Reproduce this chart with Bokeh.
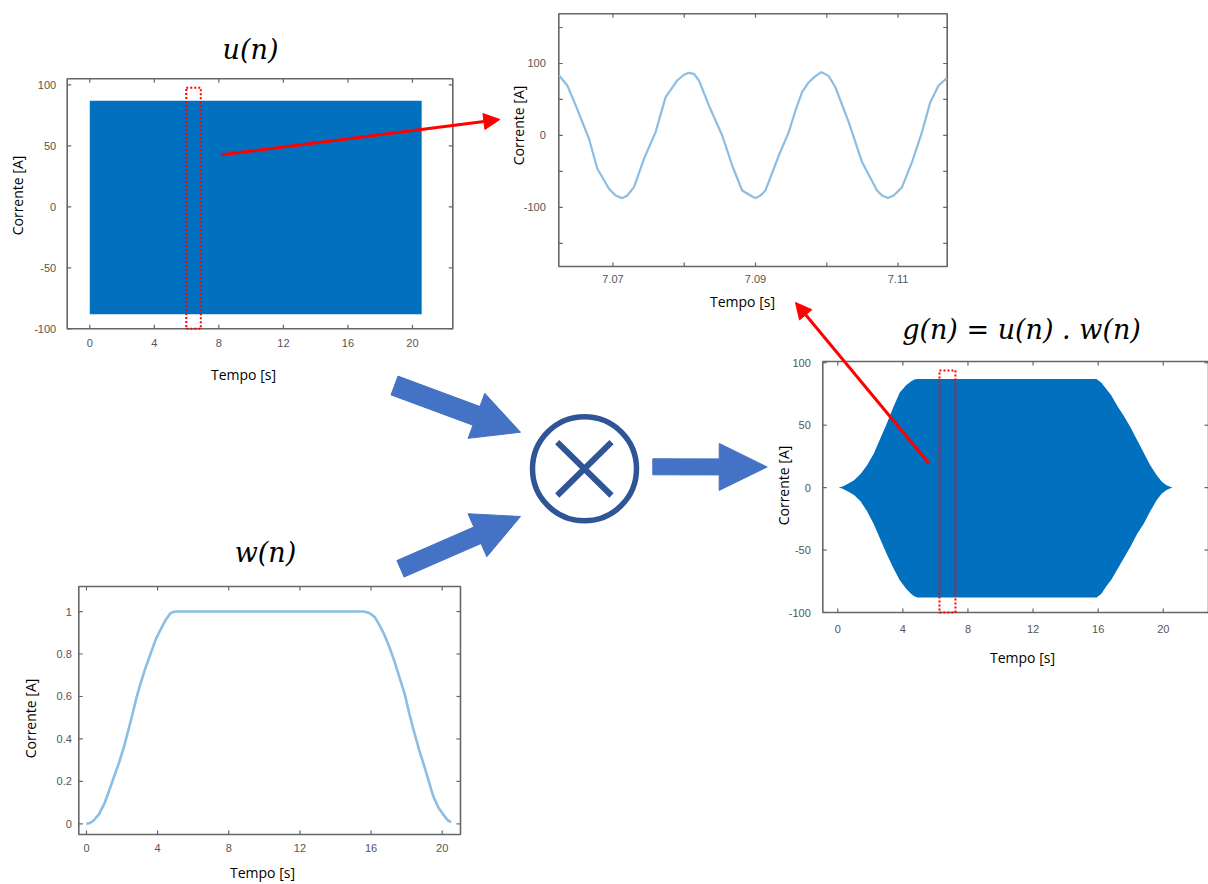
import math
from bokeh.plotting import figure
from bokeh.models import Range1d, Arrow, NormalHead
from bokeh.core.properties import value
from bokeh.embed import file_html
from bokeh.resources import INLINE

# ---------------- data ----------------
# u(n): 50 Hz current from 0 to 20.57 s -> drawn as its envelope band
u_time = [0.0, 20.57]
u_upper = [87.0, 87.0]
u_lower = [-88.0, -88.0]

# zoom of u(n) (7.062 s .. 7.117 s)
zoom_time = [7.06244, 7.06360, 7.06477, 7.06664, 7.06781, 7.06944, 7.07038, 7.07131, 7.07201,
             7.07295, 7.07435, 7.07598, 7.07739, 7.07902, 7.07996, 7.08066, 7.08136, 7.08206,
             7.08346, 7.08533, 7.08673, 7.08813, 7.08930, 7.09000, 7.09070, 7.09140, 7.09327,
             7.09467, 7.09561, 7.09654, 7.09748, 7.09841, 7.09925, 7.10028, 7.10121, 7.10308,
             7.10495, 7.10705, 7.10775, 7.10859, 7.10939, 7.11056, 7.11196, 7.11336, 7.11453,
             7.11569, 7.11686]
zoom_current = [83.3, 69.4, 41.7, -4.6, -46.3, -74.0, -83.3, -87.0, -83.3,
                -71.8, -32.4, 4.6, 53.2, 76.4, 84.3, 87.0, 85.6, 76.4,
                41.7, 0.0, -41.7, -76.4, -83.3, -87.0, -83.3, -76.4, -27.8,
                4.6, 34.7, 60.2, 74.0, 82.4, 88.0, 82.4, 67.0, 18.5,
                -37.0, -76.4, -83.3, -87.0, -83.3, -71.8, -37.0, 4.6, 46.3,
                69.4, 79.6]

# w(n): window
w_time = [0.0, 0.2, 0.4, 0.7, 1.0, 1.25, 1.5, 1.8, 2.1, 2.35, 2.6, 2.8, 3.0, 3.3, 3.6,
          3.9, 4.2, 4.45, 4.7, 4.85, 5.0,
          15.6, 15.9, 16.2, 16.45, 16.7, 17.0, 17.3, 17.6, 17.9, 18.15, 18.4, 18.7,
          19.0, 19.25, 19.5, 19.8, 20.1, 20.3, 20.5]
w_value = [0.0, 0.004, 0.016, 0.045, 0.094, 0.15, 0.21, 0.28, 0.36, 0.44, 0.52, 0.59,
           0.65, 0.73, 0.80, 0.87, 0.92, 0.96, 0.99, 0.997, 1.0,
           1.0, 0.993, 0.975, 0.94, 0.90, 0.84, 0.77, 0.69, 0.61, 0.52, 0.44, 0.35,
           0.27, 0.20, 0.13, 0.075, 0.04, 0.018, 0.008]

# g(n) = u(n).w(n): envelope band
g_time = [0.06, 0.3, 0.6, 1.0, 1.4, 1.8, 2.2, 2.6, 3.0, 3.4, 3.8, 4.2, 4.5, 4.7, 4.9,
          15.9, 16.2, 16.5, 16.8, 17.2, 17.6, 18.0, 18.4, 18.8, 19.2, 19.6, 19.9, 20.2, 20.55]
g_upper = [0, 1, 3, 6, 11, 18, 27, 39, 51, 64, 76, 82, 85, 86.5, 87,
           87, 84, 79, 74, 65, 57, 48, 38, 28, 18, 10, 5, 2, 0]
g_lower = [0, -1, -3, -6, -11, -19, -29, -41, -53, -64, -74, -81, -85, -87, -88,
           -88, -85, -79, -74, -65, -56, -47, -37, -29, -19, -10, -5, -2, 0]

# ticks
time_ticks = [0, 4, 8, 12, 16, 20]
time_labels = ["0", "4", "8", "12", "16", "20"]
current_ticks = [-100, -50, 0, 50, 100]
current_labels = ["-100", "-50", "0", "50", "100"]
zoom_time_ticks = [7.07, 7.08, 7.09, 7.10, 7.11]
zoom_time_labels = ["7.07", "", "7.09", "", "7.11"]
zoom_current_ticks = [-150, -100, -50, 0, 50, 100, 150]
zoom_current_labels = ["", "-100", "", "0", "", "100", ""]
w_ticks = [0, 0.2, 0.4, 0.6, 0.8, 1.0]
w_labels = ["0", "0.2", "0.4", "0.6", "0.8", "1"]

# highlighted windows (left, right, bottom, top)
u_window = (5.98, 6.88, -100, 97.7)
g_window = (6.25, 7.23, -100, 93.8)

# ---------------- styles ----------------
BAND = "#0070bf"
LIGHT = "#8cbde2"
FRAME = "#666666"
TICKC = "#555555"
BLUE_ARROW = "#4472c4"
DARK_BLUE = "#2f5597"
RED = "#ff0000"
TICK = 4

p = figure(width=1208, height=884, x_range=Range1d(0, 1208), y_range=Range1d(884, 0),
           x_axis_type=None, y_axis_type=None, toolbar_location=None,
           output_backend="svg", min_border=0, outline_line_color=None)
p.background_fill_color = "white"


def panel(xsrc, ysrc, xtgt, ytgt, xt, xl, yt, yl, xoff, yoff, fs="11px"):
    sub = p.subplot(x_source=Range1d(*xsrc), y_source=Range1d(*ysrc),
                    x_target=Range1d(*xtgt), y_target=Range1d(*ytgt))
    x0, x1 = xsrc
    y0, y1 = ysrc
    kx = TICK * (x1 - x0) / abs(xtgt[1] - xtgt[0])
    ky = TICK * (y1 - y0) / abs(ytgt[1] - ytgt[0])
    n, m = len(xt), len(yt)
    sub.segment(x0=xt, x1=xt, y0=[y0] * n, y1=[y0 + ky] * n, line_color=FRAME, line_width=1.2)
    sub.segment(x0=xt, x1=xt, y0=[y1] * n, y1=[y1 - ky] * n, line_color=FRAME, line_width=1.2)
    sub.segment(x0=[x0] * m, x1=[x0 + kx] * m, y0=yt, y1=yt, line_color=FRAME, line_width=1.2)
    sub.segment(x0=[x1] * m, x1=[x1 - kx] * m, y0=yt, y1=yt, line_color=FRAME, line_width=1.2)
    sub.quad(left=x0, right=x1, bottom=y0, top=y1, fill_color=None,
             line_color=FRAME, line_width=1.6)
    sub.text(x=xt, y=[y0] * n, text=xl, y_offset=xoff, text_align="center",
             text_baseline="middle", text_font=value("Liberation Sans"),
             text_font_size=fs, text_color=TICKC)
    sub.text(x=[x0] * m, y=yt, text=yl, x_offset=-yoff, text_align="right",
             text_baseline="middle", text_font=value("Liberation Sans"),
             text_font_size=fs, text_color=TICKC)
    return sub


def label(x, y, txt, angle=0.0, size="14px", font="Open Sans", style="normal"):
    p.text(x=[x], y=[y], text=[txt], angle=angle, text_align="center",
           text_baseline="middle", text_font=value(font), text_font_size=size,
           text_font_style=style, text_color="black")


def block_arrow(tail, tip, shaft_w, head_len, head_w):
    (xa, ya), (xb, yb) = tail, tip
    L = math.hypot(xb - xa, yb - ya)
    ux, uy = (xb - xa) / L, (yb - ya) / L
    nx, ny = -uy, ux
    bx, by = xb - ux * head_len, yb - uy * head_len
    s, h = shaft_w / 2, head_w / 2
    pts = [(xa + nx * s, ya + ny * s), (bx + nx * s, by + ny * s), (bx + nx * h, by + ny * h),
           (xb, yb), (bx - nx * h, by - ny * h), (bx - nx * s, by - ny * s),
           (xa - nx * s, ya - ny * s)]
    p.patch([q[0] for q in pts], [q[1] for q in pts], fill_color=BLUE_ARROW, line_color=BLUE_ARROW)


# ---------------- u(n) ----------------
su = panel((-1.4, 22.5), (-100, 105), (66.7, 452.3), (328.3, 78.3),
           time_ticks, time_labels, current_ticks, current_labels, 14, 11)
su.varea(x=u_time, y1=u_lower, y2=u_upper, fill_color=BAND)
su.quad(left=u_window[0], right=u_window[1], bottom=u_window[2], top=u_window[3],
        fill_color=None, line_color=RED, line_width=2, line_dash="2 2")
label(250, 49, "u(n)", size="27px", font="DejaVu Serif", style="italic")
label(17, 195, "Corrente [A]", angle=math.pi / 2)
label(243, 374, "Tempo [s]")

# ---------------- zoom ----------------
sz = panel((7.0624, 7.1169), (-182, 169), (558.3, 946.7), (266, 13.3),
           zoom_time_ticks, zoom_time_labels, zoom_current_ticks, zoom_current_labels, 12, 13)
sz.line(x=zoom_time, y=zoom_current, line_color=LIGHT, line_width=2.2, line_join="round")
label(518, 125, "Corrente [A]", angle=math.pi / 2)
label(742, 301, "Tempo [s]")

# ---------------- g(n) ----------------
sg = panel((-0.92, 22.78), (-100, 101), (822.3, 1208), (612, 361),
           time_ticks, time_labels, current_ticks, current_labels, 16, 12)
sg.varea(x=g_time, y1=g_lower, y2=g_upper, fill_color=BAND)
sg.quad(left=g_window[0], right=g_window[1], bottom=g_window[2], top=g_window[3],
        fill_color=None, line_color=RED, line_width=2, line_dash="2 2")
label(1021, 329, "g(n) = u(n) . w(n)", size="27px", font="DejaVu Serif", style="italic")
label(783, 485, "Corrente [A]", angle=math.pi / 2)
label(1022, 657, "Tempo [s]")

# ---------------- w(n) ----------------
sw = panel((-0.43, 21.03), (-0.05, 1.118), (78.3, 460), (834, 586),
           time_ticks, time_labels, w_ticks, w_labels, 13, 7)
sw.line(x=w_time, y=w_value, line_color=LIGHT, line_width=2.6, line_join="round")
label(265, 552, "w(n)", size="27px", font="DejaVu Serif", style="italic")
label(30, 718, "Corrente [A]", angle=math.pi / 2)
label(262, 872, "Tempo [s]")

# ---------------- block diagram ----------------
block_arrow((394, 385), (520, 431.7), 20, 47, 48)
block_arrow((400, 568.3), (520, 516), 18, 47, 47)
block_arrow((652.3, 466.3), (766.7, 466.5), 16, 48, 47)

p.circle(x=[584], y=[468.3], radius=52, fill_color=None, line_color=DARK_BLUE, line_width=5.5)
p.segment(x0=[556.7, 556.7], y0=[441.7, 495], x1=[611, 611], y1=[495, 441.7],
          line_color=DARK_BLUE, line_width=6)

p.add_layout(Arrow(x_start=221, y_start=154.3, x_end=499.3, y_end=119,
                   line_color=RED, line_width=3,
                   end=NormalHead(size=16, fill_color=RED, line_color=RED)))
p.add_layout(Arrow(x_start=928.3, y_start=462.7, x_end=795, y_end=302,
                   line_color=RED, line_width=3,
                   end=NormalHead(size=16, fill_color=RED, line_color=RED)))

open("out.html", "w").write(file_html(p, INLINE))
